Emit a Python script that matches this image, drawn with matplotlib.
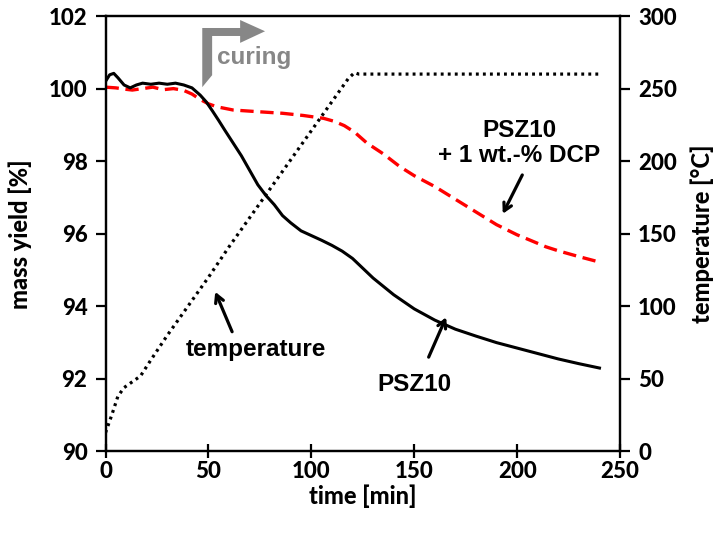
import matplotlib.pyplot as plt
from matplotlib.patches import Polygon

# PSZ10 (black, solid) - mass yield [%]
psz10_time = [0, 2, 4, 6, 9, 12, 15, 18, 22, 26, 30, 34, 38, 42, 46, 49, 52, 55,
              58, 62, 66, 70, 74, 78, 82, 86, 90, 95, 100, 105, 110, 115, 120,
              125, 130, 140, 150, 160, 170, 180, 190, 200, 210, 220, 230, 240]
psz10_mass = [100.2, 100.38, 100.42, 100.3, 100.1, 100.02, 100.1, 100.15, 100.12,
              100.15, 100.12, 100.15, 100.1, 100.02, 99.82, 99.63, 99.38, 99.12,
              98.85, 98.5, 98.15, 97.75, 97.35, 97.05, 96.8, 96.5, 96.3, 96.08,
              95.95, 95.82, 95.68, 95.52, 95.32, 95.05, 94.78, 94.32, 93.93, 93.62,
              93.37, 93.18, 93.0, 92.85, 92.7, 92.55, 92.42, 92.3]

# PSZ10 + 1 wt.-% DCP (red, dashed)
dcp_time = [0, 5, 10, 13, 18, 23, 28, 33, 38, 42, 46, 50, 54, 62, 75, 86, 96, 106,
            111, 116, 121, 127, 135, 143, 150, 160, 170, 180, 190, 200, 206, 214,
            220, 230, 240]
dcp_mass = [100.04, 100.02, 99.98, 99.96, 100.0, 100.04, 99.97, 100.0, 99.95,
            99.85, 99.7, 99.58, 99.5, 99.41, 99.36, 99.32, 99.26, 99.18, 99.1,
            98.98, 98.8, 98.5, 98.2, 97.85, 97.6, 97.3, 96.95, 96.6, 96.25, 95.97,
            95.83, 95.64, 95.53, 95.37, 95.22]

# temperature program (black, dotted) - right axis [°C]
temp_time = [0, 3, 6, 9, 13, 17, 22, 30, 40, 50, 60, 70, 80, 90, 100, 110, 118,
             121, 123, 130, 150, 200, 240]
temp_val = [13, 25, 38, 44, 48, 52, 63, 80, 100, 120, 141, 161, 181, 201, 221,
            241, 257, 261, 260, 260, 260, 260, 260]

tick_font = {'family': 'Lato', 'weight': 'black', 'size': 16}
label_font = {'family': 'Lato', 'weight': 'black', 'size': 17}
note_font = {'family': 'Liberation Sans', 'weight': 'bold', 'size': 17.5}

fig = plt.figure(figsize=(7.15, 5.34), dpi=100)
ax1 = fig.add_axes([0.1476, 0.1545, 0.7196, 0.8155])
ax2 = ax1.twinx()

ax1.plot(psz10_time, psz10_mass, color='black', lw=2.2, zorder=3)
ax1.plot(dcp_time, dcp_mass, color='#ff0000', lw=2.4, dashes=(4, 2), zorder=2)
ax2.plot(temp_time, temp_val, color='black', lw=2.3, linestyle=(0, (0.9, 1.3)))

ax1.set_xlim(0, 250)
ax1.set_ylim(90, 102)
ax2.set_ylim(0, 300)
ax1.set_xticks(range(0, 251, 50))
ax1.set_yticks(range(90, 103, 2))
ax2.set_yticks(range(0, 301, 50))

for ax in (ax1, ax2):
    for sp in ax.spines.values():
        sp.set_linewidth(1.6)
ax1.tick_params(axis='x', direction='inout', length=10, width=1.6, pad=1.5)
ax1.tick_params(axis='y', direction='out', length=7, width=1.6, pad=6)
ax2.tick_params(axis='y', direction='out', length=7, width=1.6, pad=6)
for lbl in ax1.get_xticklabels() + ax1.get_yticklabels() + ax2.get_yticklabels():
    lbl.set_fontfamily(tick_font['family'])
    lbl.set_fontweight(tick_font['weight'])
    lbl.set_fontsize(tick_font['size'])

ax1.set_xlabel('time [min]', fontdict=label_font, labelpad=2)
ax1.set_ylabel('mass yield [%]', fontdict=label_font, labelpad=12)
ax2.set_ylabel('temperature [°C]', fontdict=label_font, labelpad=10)

# curing marker: bent arrow
curing_arrow = Polygon([(47, 100.04), (47, 101.67), (65.4, 101.67), (65.4, 101.89),
                        (77.5, 101.58), (65.4, 101.26), (65.4, 101.45),
                        (51.8, 101.45), (51.8, 100.37)],
                       closed=True, facecolor='#878787', edgecolor='none', zorder=4)
ax1.add_patch(curing_arrow)
ax1.text(54, 100.68, 'curing', color='#878787', ha='left', va='baseline', **note_font)

arrow = dict(arrowstyle='->,head_length=0.55,head_width=0.3', color='black', lw=2.3,
             shrinkA=0, shrinkB=0)
ax1.text(73, 92.8, 'temperature', ha='center', va='center', **note_font)
ax1.annotate('', xy=(53.3, 94.4), xytext=(61.5, 93.3), arrowprops=arrow)

ax1.text(150, 91.85, 'PSZ10', ha='center', va='center', **note_font)
ax1.annotate('', xy=(165.5, 93.7), xytext=(157, 92.6), arrowprops=arrow)

ax1.text(201, 98.5, 'PSZ10\n+ 1 wt.-% DCP', ha='center', va='center',
         linespacing=1.15, **note_font)
ax1.annotate('', xy=(193, 96.55), xytext=(202.5, 97.62), arrowprops=arrow)

fig.savefig('out.png', dpi=100)
